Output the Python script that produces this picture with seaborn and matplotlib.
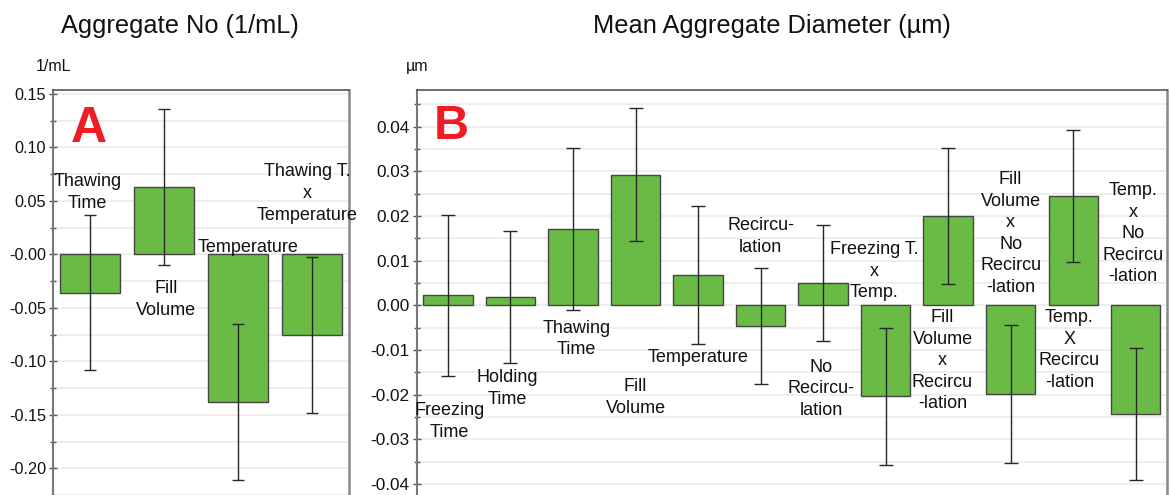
import matplotlib
matplotlib.use("Agg")
import matplotlib.pyplot as plt
from matplotlib.ticker import FixedLocator, FixedFormatter
import seaborn as sns
import pandas as pd

# ---- Panel A: aggregate number effects ----
cat_a = ["Thawing Time", "Fill Volume", "Temperature", "Thawing T. x Temperature"]
effect_a = [-0.0359, 0.0633, -0.1383, -0.0756]
ci_a = [0.0727, 0.0729, 0.0729, 0.0732]
text_a = ["Thawing\nTime", "Fill\nVolume", "Temperature", "Thawing T.\nx\nTemperature"]
ticks_a = [0.15, 0.10, 0.05, 0.0, -0.05, -0.10, -0.15, -0.20]
ticklabels_a = ["0.15", "0.10", "0.05", "-0.00", "-0.05", "-0.10", "-0.15", "-0.20"]

# ---- Panel B: mean aggregate diameter effects ----
cat_b = ["Freezing Time", "Holding Time", "Thawing Time", "Fill Volume", "Temperature",
         "Recirculation", "No Recirculation", "Freezing T. x Temp.",
         "Fill Volume x Recirculation", "Fill Volume x No Recirculation",
         "Temp. X Recirculation", "Temp. x No Recirculation"]
effect_b = [0.0022, 0.0019, 0.0171, 0.0292, 0.0068, -0.0046, 0.0049, -0.0204,
            0.0200, -0.0199, 0.0245, -0.0243]
ci_b = [0.0181, 0.0148, 0.0182, 0.0149, 0.0154, 0.0130, 0.0130, 0.0154,
        0.0153, 0.0154, 0.0147, 0.0148]
text_b = ["Freezing\nTime", "Holding\nTime", "Thawing\nTime", "Fill\nVolume", "Temperature",
          "Recircu-\nlation", "No\nRecircu-\nlation", "Freezing T.\nx\nTemp.",
          "Fill\nVolume\nx\nRecircu\n-lation", "Fill\nVolume\nx\nNo\nRecircu\n-lation",
          "Temp.\nX\nRecircu\n-lation", "Temp.\nx\nNo\nRecircu\n-lation"]
ticks_b = [0.04, 0.03, 0.02, 0.01, 0.0, -0.01, -0.02, -0.03, -0.04]
ticklabels_b = ["0.04", "0.03", "0.02", "0.01", "0.00", "-0.01", "-0.02", "-0.03", "-0.04"]

# label placement (x offset from bar centre, y centre in data units)
label_dx_a = [-0.03, 0.03, 0.135, -0.07]
label_y_a = [0.0578, -0.0422, 0.0068, 0.0568]
label_dx_b = [0.02, -0.045, 0.06, 0.0, 0.0, 0.0, -0.035, -0.18, -0.09, 0.0, -0.06, -0.045]
label_y_b = [-0.0260, -0.0186, -0.0075, -0.0206, -0.0117, 0.0154, -0.0187, 0.0076,
             -0.0124, 0.0161, -0.0100, 0.0160]

sns.set_theme(style="white")
plt.rcParams["font.family"] = ["Liberation Sans", "DejaVu Sans"]

W, H = 1170, 495
fig = plt.figure(figsize=(W / 100, H / 100), dpi=100)

BAR = "#6abb46"
EDGE = "#454545"
GRID = "#ebebeb"


def panel(rect, cats, effects, cis, texts, dxs, ys, ticks, ticklabels, ylim,
          minor_step, tick_fs, cap, width):
    ax = fig.add_axes(rect)
    df = pd.DataFrame({"term": cats, "effect": effects})
    sns.barplot(data=df, x="term", y="effect", ax=ax, color=BAR, saturation=1,
                width=width, edgecolor=EDGE, linewidth=1.0, errorbar=None, zorder=2)
    ax.errorbar(range(len(cats)), effects, yerr=cis, fmt="none", ecolor="#262626",
                elinewidth=1.0, capsize=cap, capthick=1.0, zorder=3)
    for i, (t, dx, y) in enumerate(zip(texts, dxs, ys)):
        ax.text(i + dx, y, t, ha="center", va="center", multialignment="center",
                fontsize=13, color="#111111", linespacing=1.35, zorder=4)
    ax.set_xlim(-0.5, len(cats) - 0.5)
    ax.set_ylim(*ylim)
    ax.yaxis.set_major_locator(FixedLocator(ticks))
    ax.yaxis.set_major_formatter(FixedFormatter(ticklabels))
    lo, hi = min(ticks), max(ticks)
    minors = []
    v = lo - minor_step
    while v <= hi + minor_step * 1.01:
        minors.append(round(v, 6))
        v += 2 * minor_step
    ax.yaxis.set_minor_locator(FixedLocator(minors))
    ax.yaxis.grid(True, which="both", color=GRID, linewidth=1.2, zorder=0)
    ax.xaxis.grid(False)
    ax.set_axisbelow(True)
    ax.set_xticks([])
    ax.set_xlabel("")
    ax.set_ylabel("")
    ax.tick_params(axis="y", which="major", direction="inout", length=6, width=1,
                   color="#555555", pad=2, labelsize=tick_fs, labelcolor="#111111", left=True)
    ax.tick_params(axis="y", which="minor", direction="inout", length=5, width=1,
                   color="#555555", left=True)
    ax.spines["bottom"].set_visible(False)
    ax.spines["left"].set_color("#777777")
    ax.spines["left"].set_linewidth(1.5)
    ax.spines["top"].set_color("#555555")
    ax.spines["top"].set_linewidth(1.2)
    ax.spines["right"].set_color("#888888")
    ax.spines["right"].set_linewidth(1.8)
    return ax


ax_a = panel([53 / W, 0, 296 / W, 405 / H], cat_a, effect_a, ci_a, text_a,
             label_dx_a, label_y_a, ticks_a, ticklabels_a, (-0.2250, 0.1536),
             0.025, 11.7, 4.3, 0.8)
ax_b = panel([416.7 / W, 0, 750.3 / W, 405 / H], cat_b, effect_b, ci_b, text_b,
             label_dx_b, label_y_b, ticks_b, ticklabels_b, (-0.04247, 0.0482),
             0.005, 12.4, 4.7, 0.79)

# titles, units and panel letters
fig.text(180 / W, 1 - 33 / H, "Aggregate No (1/mL)", ha="center", va="baseline",
         fontsize=18.3, color="#111111")
fig.text(772 / W, 1 - 33 / H, "Mean Aggregate Diameter (\u00b5m)", ha="center",
         va="baseline", fontsize=18.3, color="#111111")
fig.text(36 / W, 1 - 71 / H, "1/mL", ha="left", va="baseline", fontsize=11.5,
         color="#111111")
fig.text(406 / W, 1 - 71 / H, "\u00b5m", ha="left", va="baseline", fontsize=11.5,
         color="#111111")
fig.text(89 / W, 1 - 141.7 / H, "A", ha="center", va="baseline", fontsize=36,
         fontweight="bold", color="#ee1c25")
fig.text(451 / W, 1 - 139.3 / H, "B", ha="center", va="baseline", fontsize=35,
         fontweight="bold", color="#ee1c25")

fig.savefig("out.png", dpi=100)
